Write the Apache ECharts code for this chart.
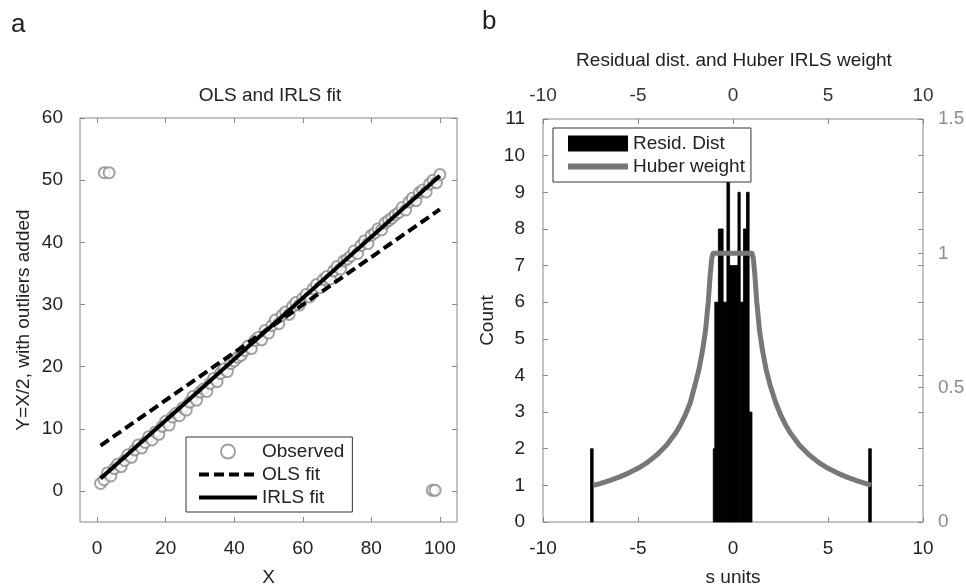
<!DOCTYPE html>
<html>
<head>
<meta charset="utf-8">
<title>OLS and IRLS fit / Residual dist.</title>
<script src="https://cdn.jsdelivr.net/npm/echarts@6/dist/echarts.min.js"></script>
<style>
html, body { margin: 0; padding: 0; background: #fff; }
#main { width: 966px; height: 586px; }
</style>
</head>
<body>
<div id="main"></div>
<script>
// ---- panel a : observed points and the two fits ----
var obsX = [1,2,3,4,5,6,7,8,9,10,11,12,13,14,15,16,17,18,19,20,
            21,22,23,24,25,26,27,28,29,30,31,32,33,34,35,36,37,38,39,40,
            41,42,43,44,45,46,47,48,49,50,51,52,53,54,55,56,57,58,59,60,
            61,62,63,64,65,66,67,68,69,70,71,72,73,74,75,76,77,78,79,80,
            81,82,83,84,85,86,87,88,89,90,91,92,93,94,95,96,97,98,99,100];
var obsY = [1.2,1.8,2.9,2.4,3.6,4.3,3.9,4.9,5.8,5.4,6.6,7.4,6.9,7.8,8.7,8.2,9.5,9.1,10.4,11.2,
            10.6,11.9,12.5,12.1,13.4,13.0,14.3,15.2,14.6,15.9,16.4,16.0,17.3,18.1,17.6,18.9,19.6,19.2,20.5,20.9,
            21.5,21.8,22.6,23.3,22.9,24.2,24.7,24.3,25.8,25.4,26.6,27.5,26.9,28.3,28.8,28.4,29.7,30.3,29.9,31.0,
            31.6,31.2,32.5,33.2,32.7,34.0,34.5,34.1,35.4,36.1,35.7,37.0,37.3,37.8,38.6,38.2,39.5,40.2,39.8,41.1,
            41.5,42.2,42.0,43.1,43.5,43.9,44.4,44.8,45.6,45.2,46.5,47.1,46.7,48.0,48.4,48.1,49.4,50.0,49.6,50.9];
var outX = [2.1, 3.5, 97.8, 98.6];
var outY = [51.2, 51.2, 0.1, 0.1];
var fitX = [1, 100];
var olsY = [7.3, 45.3];
var irlsY = [2.0, 50.7];
var ticksXa = [0, 20, 40, 60, 80, 100];
var ticksYa = [0, 10, 20, 30, 40, 50, 60];

// ---- panel b : residual histogram and Huber weight ----
var binLo    = [-7.50, -1.04, -0.96, -0.77, -0.52, -0.32, -0.18, 0.26, 0.38, 0.55, 0.71, 0.85, 7.14];
var binHi    = [-7.36, -0.96, -0.77, -0.52, -0.32, -0.18,  0.26, 0.38, 0.55, 0.71, 0.85, 1.00, 7.28];
var binCount = [2, 2, 6, 8, 6, 10, 7, 9, 6, 8, 9, 3, 2];
var huberS = [-7.35, -7.0, -6.5, -6.0, -5.5, -5.0, -4.5, -4.0, -3.5, -3.0, -2.75, -2.5, -2.25, -2.0,
              -1.8, -1.6, -1.45, -1.3, -1.2, -1.12, -1.05,
              1.0, 1.07, 1.15, 1.25, 1.4, 1.55, 1.75, 1.95, 2.25, 2.5, 2.75, 3.0, 3.5, 4.0, 4.5,
              5.0, 5.5, 6.0, 6.5, 7.0, 7.27];
var huberW = [0.136, 0.143, 0.154, 0.167, 0.182, 0.20, 0.222, 0.25, 0.286, 0.333, 0.364, 0.40, 0.444, 0.51,
              0.565, 0.64, 0.71, 0.82, 0.92, 0.98, 1.0,
              1.0, 0.98, 0.92, 0.82, 0.71, 0.64, 0.565, 0.51, 0.444, 0.40, 0.364, 0.333, 0.286, 0.25, 0.222,
              0.20, 0.182, 0.167, 0.154, 0.143, 0.137];
var countTicks = [0, 1, 2, 3, 4, 5, 6, 7, 8, 9, 10, 11];
var weightTicks = [0, 0.5, 1, 1.5];

var FONT = '"Liberation Sans", Arial, sans-serif';
var BOX = '#888';
var FS = 19;

function pairs(xs, ys) {
    var out = [];
    for (var i = 0; i < xs.length; i++) out.push([xs[i], ys[i]]);
    return out;
}
var bins = [];
for (var i = 0; i < binCount.length; i++) bins.push([binLo[i], binHi[i], binCount[i]]);
// count ticks mirrored on the right (weight) axis
var mirrorTicks = weightTicks.slice();
for (var j = 0; j < countTicks.length; j++) mirrorTicks.push(countTicks[j] * 1.5 / 11);

var tick = { inside: true, length: 5, lineStyle: { color: BOX } };
var nameStyle = { fontSize: FS, color: '#222', fontFamily: FONT };

function mirrorAxis(grid, pos, min, max, vals) {
    return {
        type: 'value', gridIndex: grid, position: pos, min: min, max: max,
        axisLine: { show: false, onZero: false }, splitLine: { show: false }, axisLabel: { show: false },
        axisTick: { inside: true, length: 5, lineStyle: { color: BOX }, customValues: vals }
    };
}

var myChart = echarts.init(document.getElementById('main'));
myChart.setOption({
    animation: false,
    backgroundColor: '#fff',
    textStyle: { fontFamily: FONT },
    title: [
        { text: 'OLS and IRLS fit', left: 270, top: 86, textAlign: 'center', padding: 0,
          textStyle: { fontSize: FS, fontWeight: 'normal', color: '#222', fontFamily: FONT } },
        { text: 'Residual dist. and Huber IRLS weight', left: 734, top: 51, textAlign: 'center', padding: 0,
          textStyle: { fontSize: FS, fontWeight: 'normal', color: '#222', fontFamily: FONT } }
    ],
    graphic: [
        { type: 'text', left: 11, top: 12, style: { text: 'a', fontSize: 26, fill: '#222', fontFamily: FONT } },
        { type: 'text', left: 482, top: 9, style: { text: 'b', fontSize: 26, fill: '#222', fontFamily: FONT } }
    ],
    grid: [
        { left: 80, top: 118, width: 377, height: 404, show: true, borderColor: BOX, borderWidth: 1,
          outerBoundsMode: 'none' },
        { left: 543, top: 119, width: 380, height: 403, show: true, borderColor: BOX, borderWidth: 1,
          outerBoundsMode: 'none' }
    ],
    legend: [
        {
            orient: 'vertical', left: 186, top: 437, selectedMode: false,
            backgroundColor: '#fff', borderColor: '#333', borderWidth: 1,
            padding: [5, 8, 5, 11], itemWidth: 58, itemHeight: 14, itemGap: 4,
            textStyle: { fontSize: FS, color: '#222', fontFamily: FONT },
            data: [
                { name: 'Observed', icon: 'emptyCircle', itemStyle: { color: '#8a8a8a', borderColor: '#8a8a8a', borderWidth: 1 } },
                { name: 'OLS fit', itemStyle: { opacity: 0 }, lineStyle: { width: 4, color: '#000', type: [10, 5] } },
                { name: 'IRLS fit', itemStyle: { opacity: 0 }, lineStyle: { width: 4, color: '#000' } }
            ]
        },
        {
            orient: 'vertical', left: 553, top: 128, selectedMode: false,
            backgroundColor: '#fff', borderColor: '#333', borderWidth: 1,
            padding: [6, 6, 6, 12], itemWidth: 60, itemHeight: 16, itemGap: 4,
            textStyle: { fontSize: FS, color: '#222', fontFamily: FONT },
            data: [
                { name: 'Resid. Dist', icon: 'rect', itemStyle: { color: '#000' } },
                { name: 'Huber weight', itemStyle: { opacity: 0 }, lineStyle: { width: 6, color: '#777' } }
            ]
        }
    ],
    xAxis: [
        {
            type: 'value', gridIndex: 0, position: 'bottom', min: -5, max: 105,
            name: 'X', nameLocation: 'middle', nameGap: 46, nameTextStyle: nameStyle,
            axisLine: { show: false, onZero: false }, splitLine: { show: false },
            axisTick: { inside: true, length: 5, lineStyle: { color: BOX }, customValues: ticksXa },
            axisLabel: { color: '#222', fontSize: FS, fontFamily: FONT, margin: 17, customValues: ticksXa }
        },
        mirrorAxis(0, 'top', -5, 105, ticksXa),
        {
            type: 'value', gridIndex: 1, position: 'bottom', min: -10, max: 10, interval: 5,
            name: 's units', nameLocation: 'middle', nameGap: 46, nameTextStyle: nameStyle,
            axisLine: { show: false, onZero: false }, splitLine: { show: false },
            axisTick: tick,
            axisLabel: { color: '#222', fontSize: FS, fontFamily: FONT, margin: 17 }
        },
        {
            type: 'value', gridIndex: 1, position: 'top', min: -10, max: 10, interval: 5,
            axisLine: { show: false, onZero: false }, splitLine: { show: false },
            axisTick: tick,
            axisLabel: { color: '#333', fontSize: FS, fontFamily: FONT, margin: 14 }
        }
    ],
    yAxis: [
        {
            type: 'value', gridIndex: 0, position: 'left', min: -5, max: 60,
            name: 'Y=X/2, with outliers added', nameLocation: 'middle', nameGap: 47, nameTextStyle: nameStyle,
            axisLine: { show: false, onZero: false }, splitLine: { show: false },
            axisTick: { inside: true, length: 5, lineStyle: { color: BOX }, customValues: ticksYa },
            axisLabel: { color: '#222', fontSize: FS, fontFamily: FONT, margin: 17, customValues: ticksYa }
        },
        mirrorAxis(0, 'right', -5, 60, ticksYa),
        {
            type: 'value', gridIndex: 1, position: 'left', min: 0, max: 11, interval: 1,
            name: 'Count', nameLocation: 'middle', nameGap: 46, nameTextStyle: nameStyle,
            axisLine: { show: false, onZero: false }, splitLine: { show: false },
            axisTick: tick,
            axisLabel: { color: '#222', fontSize: FS, fontFamily: FONT, margin: 18 }
        },
        {
            type: 'value', gridIndex: 1, position: 'right', min: 0, max: 1.5,
            axisLine: { show: false, onZero: false }, splitLine: { show: false },
            axisTick: { inside: true, length: 5, lineStyle: { color: BOX }, customValues: mirrorTicks },
            axisLabel: { color: '#8c8c8c', fontSize: FS, fontFamily: FONT, margin: 15, customValues: weightTicks }
        }
    ],
    series: [
        {
            name: 'Observed', type: 'scatter', xAxisIndex: 0, yAxisIndex: 0,
            symbol: 'emptyCircle', symbolSize: 11,
            itemStyle: { color: '#8a8a8a', borderColor: '#8a8a8a', borderWidth: 1 },
            data: pairs(obsX, obsY).concat(pairs(outX, outY)), z: 2
        },
        {
            name: 'OLS fit', type: 'line', xAxisIndex: 0, yAxisIndex: 0, symbol: 'none',
            itemStyle: { color: '#000' },
            lineStyle: { color: '#000', width: 4, type: [10, 5] },
            data: pairs(fitX, olsY), z: 3
        },
        {
            name: 'IRLS fit', type: 'line', xAxisIndex: 0, yAxisIndex: 0, symbol: 'none',
            itemStyle: { color: '#000' },
            lineStyle: { color: '#000', width: 4 },
            data: pairs(fitX, irlsY), z: 3
        },
        {
            name: 'Resid. Dist', type: 'custom', xAxisIndex: 2, yAxisIndex: 2,
            itemStyle: { color: '#000' },
            encode: { x: [0, 1], y: 2 },
            renderItem: function (params, api) {
                var p0 = api.coord([api.value(0), api.value(2)]);
                var p1 = api.coord([api.value(1), 0]);
                return {
                    type: 'rect',
                    shape: { x: p0[0], y: p0[1], width: p1[0] - p0[0], height: p1[1] - p0[1] },
                    style: { fill: '#000', stroke: '#000', lineWidth: 0.8 }
                };
            },
            data: bins, z: 2
        },
        {
            name: 'Huber weight', type: 'line', xAxisIndex: 2, yAxisIndex: 3, symbol: 'none',
            lineStyle: { color: '#777', width: 5, join: 'round' },
            itemStyle: { color: '#777' },
            data: pairs(huberS, huberW), z: 4
        }
    ]
});
</script>
</body>
</html>
